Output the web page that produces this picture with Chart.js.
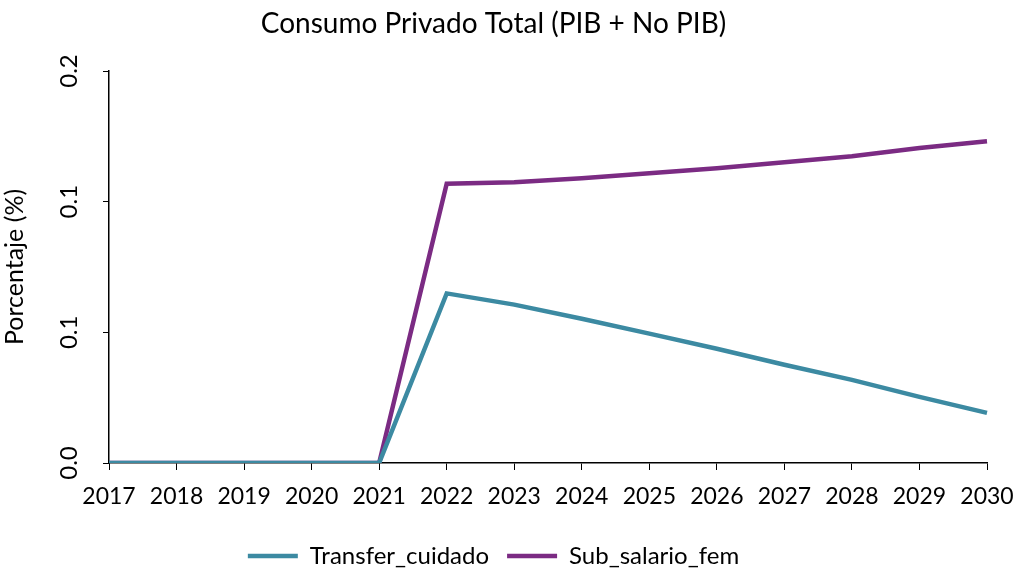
<!DOCTYPE html>
<html>
<head>
<meta charset="utf-8">
<script src="https://cdn.jsdelivr.net/npm/chart.js@4.4.1/dist/chart.umd.min.js"></script>
<style>
  html, body { margin: 0; padding: 0; background: #ffffff; }
  #wrap { width: 1016px; height: 572px; }
</style>
</head>
<body>
<div id="wrap"><canvas id="chart" width="1016" height="572"></canvas></div>
<script>
// Data
const years = ['2017', '2018', '2019', '2020', '2021', '2022', '2023', '2024', '2025', '2026', '2027', '2028', '2029', '2030'];
const transferCuidado = [0, 0, 0, 0, 0, 0.0649, 0.0606, 0.0552, 0.0495, 0.0437, 0.0376, 0.0318, 0.0253, 0.0192];
const subSalarioFem = [0, 0, 0, 0, 0, 0.1069, 0.1074, 0.1090, 0.1109, 0.1128, 0.1151, 0.1174, 0.1205, 0.1231];
const yTicks = [0, 0.05, 0.1, 0.15];

const FONT = "Lato, 'Open Sans', sans-serif";

// y tick labels are drawn rotated, like the original spreadsheet chart
const rotatedYLabels = {
    id: 'rotatedYLabels',
    afterDraw(chart) {
        const ctx = chart.ctx;
        const y = chart.scales.y;
        ctx.save();
        ctx.fillStyle = '#000';
        ctx.font = '24px ' + FONT;
        ctx.textAlign = 'center';
        ctx.textBaseline = 'middle';
        yTicks.forEach(function(v) {
            ctx.save();
            ctx.translate(69, y.getPixelForValue(v));
            ctx.rotate(-Math.PI / 2);
            ctx.fillText((Math.round(v * 10) / 10).toFixed(1), 0, 0);
            ctx.restore();
        });
        ctx.restore();
    }
};

Chart.defaults.font.family = FONT;
Chart.defaults.color = '#000';

new Chart(document.getElementById('chart'), {
    type: 'line',
    data: {
        labels: years,
        datasets: [{
            label: 'Transfer_cuidado',
            data: transferCuidado,
            borderColor: '#3C8AA2',
            backgroundColor: '#3C8AA2',
            borderWidth: 4.5,
            pointRadius: 0,
            tension: 0
        }, {
            label: 'Sub_salario_fem',
            data: subSalarioFem,
            borderColor: '#7B2B83',
            backgroundColor: '#7B2B83',
            borderWidth: 4.5,
            pointRadius: 0,
            tension: 0
        }]
    },
    options: {
        responsive: false,
        animation: false,
        layout: { padding: { left: 0, right: 29, top: 0, bottom: -6 } },
        plugins: {
            title: {
                display: true,
                text: 'Consumo Privado Total (PIB + No PIB)',
                color: '#000',
                font: { size: 28, weight: 'normal' },
                padding: { top: 7, bottom: 30.4 }
            },
            legend: {
                position: 'bottom',
                labels: {
                    usePointStyle: true,
                    pointStyle: 'line',
                    pointStyleWidth: 50,
                    boxHeight: 4,
                    padding: 18,
                    font: { size: 24 },
                    color: '#000'
                }
            },
            tooltip: { enabled: false }
        },
        scales: {
            x: {
                afterFit: function(scale) {
                    scale.height = 63;
                    scale.paddingLeft = 0;
                    scale.paddingRight = 0;
                },
                grid: {
                    display: true,
                    drawOnChartArea: false,
                    drawTicks: true,
                    tickLength: 7,
                    color: '#000'
                },
                border: { color: '#000', width: 1.5 },
                ticks: {
                    autoSkip: false,
                    maxRotation: 0,
                    padding: 13,
                    font: { size: 23 },
                    color: '#000'
                }
            },
            y: {
                min: 0,
                max: 0.15,
                afterBuildTicks: function(scale) {
                    scale.ticks = yTicks.map(function(v) { return { value: v }; });
                },
                afterFit: function(scale) { scale.width = 109; },
                grid: {
                    display: true,
                    drawOnChartArea: false,
                    drawTicks: true,
                    tickLength: 6,
                    color: '#000'
                },
                border: { color: '#000', width: 1.5 },
                ticks: { display: false },
                title: {
                    display: true,
                    text: 'Porcentaje (%)',
                    font: { size: 25 },
                    color: '#000',
                    padding: 0
                }
            }
        }
    },
    plugins: [rotatedYLabels]
});
</script>
</body>
</html>
